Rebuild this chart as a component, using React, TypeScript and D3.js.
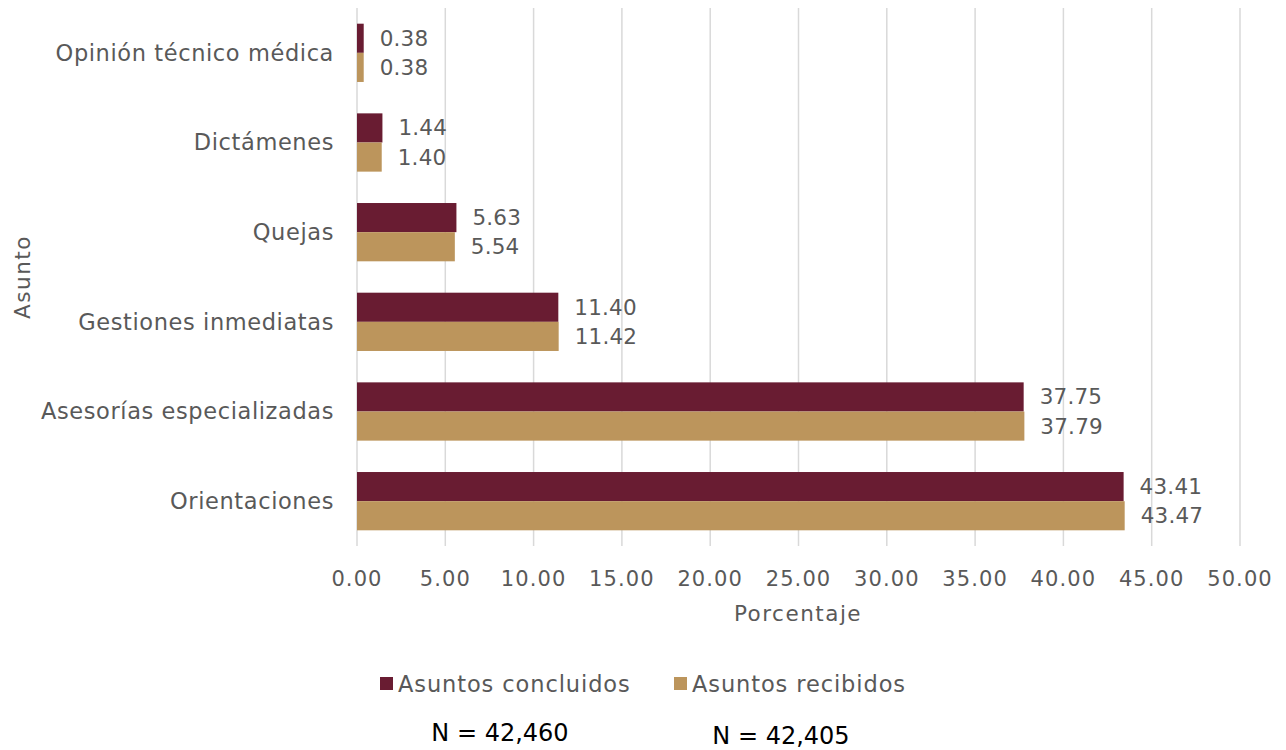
import React from "react";
import * as d3 from "d3";

const categories = [
  "Opinión técnico médica",
  "Dictámenes",
  "Quejas",
  "Gestiones inmediatas",
  "Asesorías especializadas",
  "Orientaciones",
];
const concluidos = [0.38, 1.44, 5.63, 11.4, 37.75, 43.41];
const recibidos = [0.38, 1.4, 5.54, 11.42, 37.79, 43.47];
const seriesNames = ["Asuntos concluidos", "Asuntos recibidos"];
const seriesColors = ["#691C32", "#BC955C"];
const xTicks = [0, 5, 10, 15, 20, 25, 30, 35, 40, 45, 50];
const nLabels = ["N = 42,460", "N = 42,405"];

const W = 1286;
const H = 750;
const FONT = "'DejaVu Sans', sans-serif";
const TEXT = "#595959";

export default function App() {
  const x = d3.scaleLinear().domain([0, 50]).range([357, 1240]);
  const y = d3.scaleBand<string>().domain(categories).range([8, 546]).paddingInner(0.35).paddingOuter(0.175);
  const sub = d3.scaleBand<number>().domain([0, 1]).range([0, y.bandwidth()]);
  const series = [concluidos, recibidos];

  return (
    <svg width={W} height={H} style={{ position: "absolute", left: 0, top: 0 }} fontFamily={FONT}>
      <rect width={W} height={H} fill="#fff" />
      {xTicks.map((t) => (
        <g key={t}>
          <line x1={x(t)} x2={x(t)} y1={8} y2={546} stroke="#d9d9d9" strokeWidth={1.5} />
          <text x={x(t)} y={586} textAnchor="middle" fontSize={21} letterSpacing={1.1} fill={TEXT}>
            {t.toFixed(2)}
          </text>
        </g>
      ))}
      {categories.map((c, i) => (
        <g key={c}>
          <text x={334} y={(y(c) as number) + y.bandwidth() / 2} dy="0.35em" textAnchor="end" fontSize={22.5} letterSpacing={0.6} fill={TEXT}>
            {c}
          </text>
          {series.map((s, k) => {
            const y0 = (y(c) as number) + (sub(k) as number);
            return (
              <g key={k}>
                <rect x={x(0)} y={y0} width={x(s[i]) - x(0)} height={sub.bandwidth()} fill={seriesColors[k]} />
                <text x={x(s[i]) + 16} y={y0 + sub.bandwidth() / 2} dy="0.35em" fontSize={21.5} letterSpacing={0.2} fill={TEXT}>
                  {s[i].toFixed(2)}
                </text>
              </g>
            );
          })}
        </g>
      ))}
      <text x={798} y={621} textAnchor="middle" fontSize={21.5} letterSpacing={1.5} fill={TEXT}>
        Porcentaje
      </text>
      <text transform="translate(30,277) rotate(-90)" textAnchor="middle" fontSize={21.5} letterSpacing={1.5} fill={TEXT}>
        Asunto
      </text>
      {seriesNames.map((n, k) => {
        const lx = [380, 674][k];
        return (
          <g key={n}>
            <rect x={lx} y={677} width={13} height={13} fill={seriesColors[k]} />
            <text x={lx + 18} y={684} dy="0.35em" fontSize={22.5} letterSpacing={0.9} fill={TEXT}>
              {n}
            </text>
          </g>
        );
      })}
      {nLabels.map((n, k) => (
        <text key={n} x={[500, 781][k]} y={[733, 736][k]} dy="0.35em" textAnchor="middle" fontSize={24} fill="#000">
          {n}
        </text>
      ))}
    </svg>
  );
}
